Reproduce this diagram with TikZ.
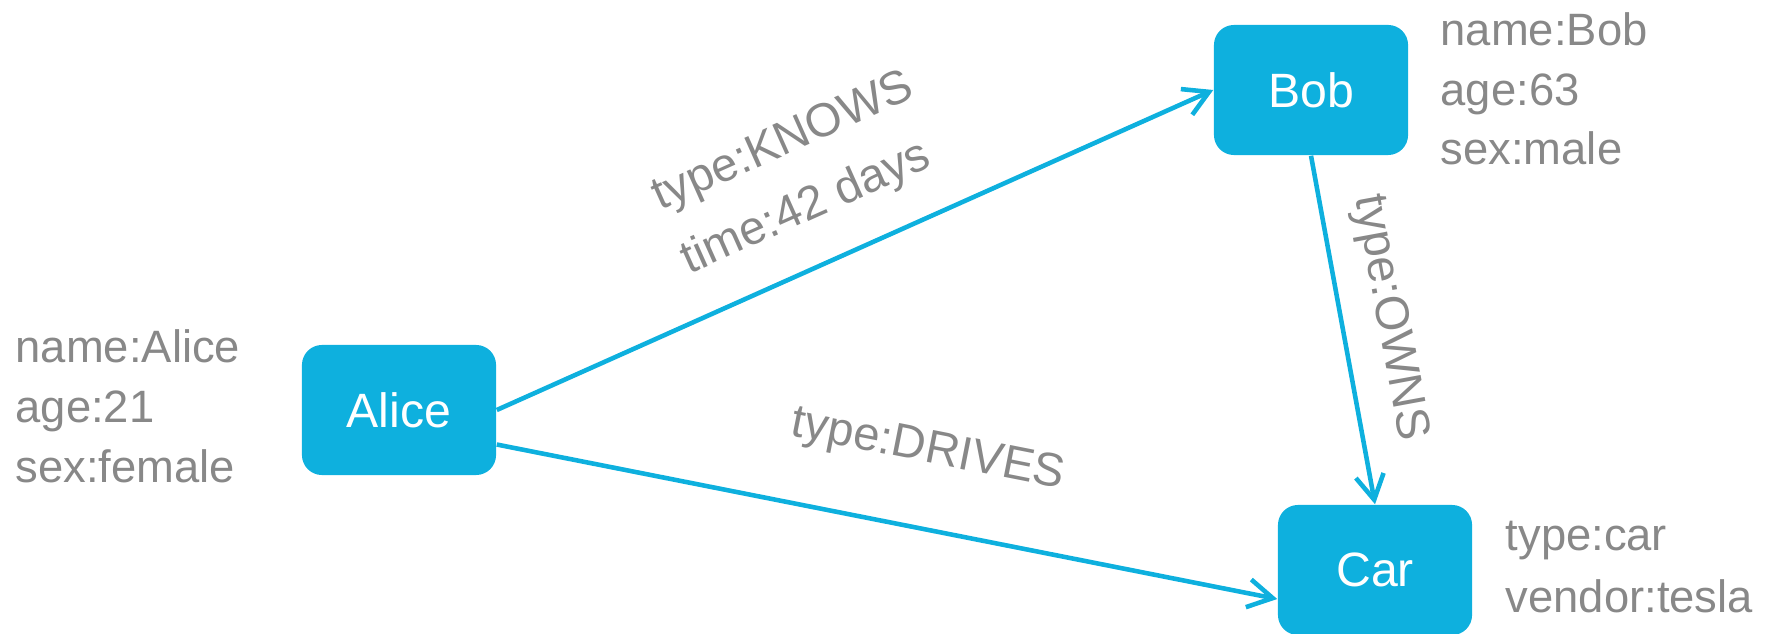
\documentclass[tikz,border=0pt]{standalone}
\usepackage{fontspec}
\setmainfont{Liberation Sans}
\usetikzlibrary{arrows.meta, positioning}
\definecolor{cBlue}{RGB}{14,176,222}
\definecolor{cGray}{RGB}{136,136,136}

\begin{document}
\begin{tikzpicture}[x=0.01cm, y=-0.01cm,
    ent/.style={rectangle, rounded corners=0.2cm, fill=cBlue, text=white, minimum width=1.94cm, minimum height=1.30cm, inner sep=0pt, font=\fontsize{13.7}{16}\selectfont},
    prop/.style={anchor=west, align=left, inner sep=0pt, text=cGray, font=\fontsize{12.9}{17}\selectfont},
    rel/.style={draw=cBlue, line width=1.3pt, -{Straight Barb[length=7pt,width=8pt]}},
    lbl/.style={sloped, inner sep=0pt, text=cGray, font=\fontsize{13.4}{19.9}\selectfont}]
    \useasboundingbox (0,0) rectangle (1780,634);
    \node[ent] (alice) at (399,410) {Alice};
    \node[ent] (bob)   at (1311,90) {Bob};
    \node[ent] (car)   at (1375,570) {Car};
    \node[prop] (aliceprops) at (15,406)  {name:Alice\\age:21\\sex:female};
    \node[prop] (bobprops)   at (1440,89) {name:Bob\\age:63\\sex:male};
    \node[prop, font=\fontsize{12.9}{17.6}\selectfont] (carprops) at (1505,567) {type:car\\vendor:tesla};
    \draw[rel] (alice.east) -- node[lbl, pos=0.473, above=0.33cm, align=left] {type:KNOWS\\time:42 days} (bob.west);
    \draw[rel] (bob.south) -- node[lbl, pos=0.49, above=0.24cm] {type:OWNS} (car.north);
    \draw[rel] ([yshift=-0.345cm]alice.east) -- node[lbl, pos=0.533, above=0.54cm] {type:DRIVES} ([yshift=-0.29cm]car.west);
\end{tikzpicture}
\end{document}
